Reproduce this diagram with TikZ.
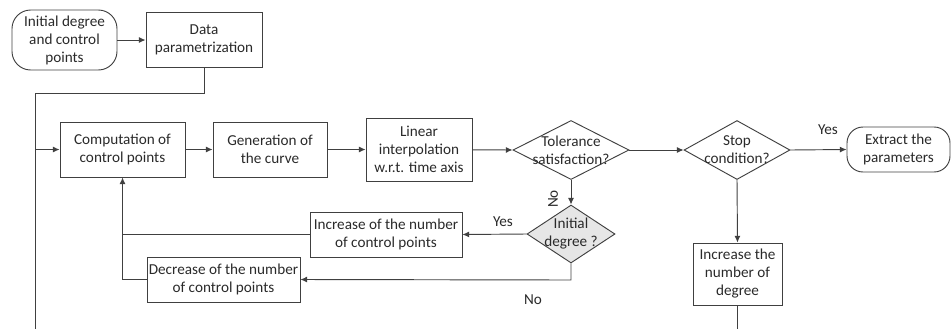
\documentclass[tikz,border=0pt]{standalone}
\usepackage{fontspec}
\setmainfont{Carlito}
\usetikzlibrary{shapes.geometric,arrows.meta}
\definecolor{ln}{HTML}{404040}
\definecolor{tx}{HTML}{2A2A2A}
\definecolor{dg}{HTML}{E6E6E6}
\begin{document}
\begin{tikzpicture}[x=0.75pt,y=-0.75pt,
  every node/.style={font=\fontsize{11.4pt}{13.5pt}\selectfont,text=tx,align=center,inner sep=0pt},
  box/.style={draw=ln,line width=0.7pt,rectangle},
  term/.style={draw=ln,line width=0.7pt,rectangle,rounded corners=14pt},
  term2/.style={draw=ln,line width=0.7pt,rectangle,rounded corners=12pt},
  dia/.style={draw=ln,line width=0.7pt,diamond,aspect=2},
  conn/.style={draw=ln,line width=0.7pt},
  arr/.style={conn,-{Latex[length=5pt,width=4.5pt]}},
  lbl/.style={font=\fontsize{11.4pt}{13.5pt}\selectfont}]
\useasboundingbox (0,0) rectangle (952,329);
% nodes
\node[term,minimum width=78.75pt,minimum height=45pt] (start) at (64.5,40) {Initial degree\\and control\\points};
\node[box,minimum width=87pt,minimum height=41.25pt] (dp) at (204,39.5) {Data\\parametrization};
\node[box,minimum width=93.75pt,minimum height=41.25pt] (comp) at (122.5,149.5) {Computation of\\control points};
\node[box,minimum width=85.5pt,minimum height=41.25pt] (gen) at (270,149.5) {Generation of\\the curve};
\node[box,minimum width=79.5pt,minimum height=47.25pt] (lin) at (419,149.5) {Linear\\interpolation\\w.r.t. time axis};
\node[dia,minimum width=87pt,minimum height=44.25pt] (tol) at (571,150) {};
\node at (tol) {Tolerance\\satisfaction?};
\node[dia,minimum width=79.5pt,minimum height=44.25pt] (stop) at (737,150) {};
\node at (stop) {Stop\\condition?};
\node[term2,minimum width=77.25pt,minimum height=33.75pt] (ext) at (898.5,149.5) {Extract the\\parameters};
\node[dia,fill=dg,minimum width=66pt,minimum height=43.5pt] (init) at (571,234) {};
\node at (init) {Initial\\degree ?};
\node[box,minimum width=114pt,minimum height=33.75pt] (inc) at (386,234.5) {Increase of the number\\of control points};
\node[box,minimum width=114.75pt,minimum height=33.75pt] (dec) at (223.5,279.5) {Decrease of the number\\of control points};
\node[box,minimum width=66.75pt,minimum height=46.5pt] (incd) at (737.5,274) {Increase the\\number of\\degree};
% coordinates
\coordinate (c1) at (204,93);
\coordinate (c2) at (35,93);
\coordinate (c3) at (35,329);
\coordinate (j1) at (35,149.5);
\coordinate (c4) at (122.5,234.5);
\coordinate (c5) at (122.5,279.5);
\coordinate (c6) at (571,280);
\coordinate (c7) at (737.5,329);
% connectors
\draw[arr] (start.east) -- (dp.west |- start.east);
\draw[conn] (dp.south) -- (c1) -- (c2) -- (c3);
\draw[arr] (j1) -- (comp.west);
\draw[arr] (comp) -- (gen);
\draw[arr] (gen) -- (lin);
\draw[arr] (lin) -- (tol.west);
\draw[arr] (tol.east) -- (stop.west);
\draw[arr] (stop.east) -- (ext.west);
\draw[arr] (tol.south) -- (init.north);
\draw[arr] (init.west) -- (inc.east);
\draw[arr] (inc.west) -- (c4) -- (comp.south);
\draw[conn] (dec.west) -- (c5) -- (c4);
\draw[arr] (init.south) -- (c6) -- (dec.east);
\draw[arr] (stop.south) -- (incd.north);
\draw[conn] (incd.south) -- (c7);
% labels
\node[lbl] (yes1) at (828,130) {Yes};
\node[lbl] (yes2) at (503,222) {Yes};
\node[lbl] (no1) at (533,300) {No};
\node[lbl,rotate=90] (no2) at (553,199) {No};
\end{tikzpicture}
\end{document}
